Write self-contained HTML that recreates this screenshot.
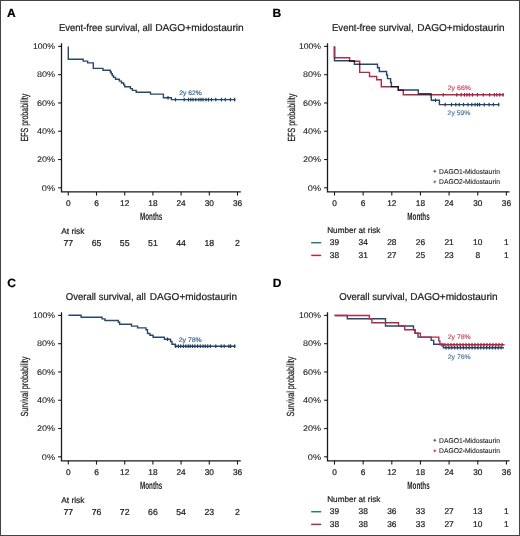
<!DOCTYPE html><html><head><meta charset="utf-8"><style>html,body{margin:0;padding:0;background:#fff;}svg{display:block;}text{font-family:"Liberation Sans",sans-serif;text-rendering:geometricPrecision;}</style></head><body>
<svg width="520" height="536" viewBox="0 0 520 536">
<rect x="0" y="0" width="520" height="536" fill="#fff"/>
<rect x="0.5" y="0.5" width="519" height="535" fill="none" stroke="#444" stroke-width="1"/>
<text x="7.00" y="17.30" font-size="12" text-anchor="start" fill="#000" font-weight="bold" stroke="#000" stroke-width="0.22">A</text>
<text x="272.50" y="17.00" font-size="12" text-anchor="start" fill="#000" font-weight="bold" stroke="#000" stroke-width="0.22">B</text>
<text x="7.30" y="286.50" font-size="12" text-anchor="start" fill="#000" font-weight="bold" stroke="#000" stroke-width="0.22">C</text>
<text x="272.70" y="286.70" font-size="12" text-anchor="start" fill="#000" font-weight="bold" stroke="#000" stroke-width="0.22">D</text>
<text x="59.00" y="31.00" font-size="10.0" text-anchor="start" fill="#222" font-weight="normal" textLength="93.0" lengthAdjust="spacingAndGlyphs" stroke="#222" stroke-width="0.22">Event-free survival, all</text>
<text x="155.20" y="31.00" font-size="10.0" text-anchor="start" fill="#222" font-weight="normal" textLength="88.6" lengthAdjust="spacingAndGlyphs" stroke="#222" stroke-width="0.22">DAGO+midostaurin</text>
<text x="332.00" y="31.00" font-size="10.0" text-anchor="start" fill="#222" font-weight="normal" textLength="81.6" lengthAdjust="spacingAndGlyphs" stroke="#222" stroke-width="0.22">Event-free survival,</text>
<text x="417.20" y="31.00" font-size="10.0" text-anchor="start" fill="#222" font-weight="normal" textLength="87.4" lengthAdjust="spacingAndGlyphs" stroke="#222" stroke-width="0.22">DAGO+midostaurin</text>
<text x="65.80" y="300.00" font-size="10.0" text-anchor="start" fill="#222" font-weight="normal" textLength="80.0" lengthAdjust="spacingAndGlyphs" stroke="#222" stroke-width="0.22">Overall survival, all</text>
<text x="149.80" y="300.00" font-size="10.0" text-anchor="start" fill="#222" font-weight="normal" textLength="87.4" lengthAdjust="spacingAndGlyphs" stroke="#222" stroke-width="0.22">DAGO+midostaurin</text>
<text x="339.30" y="300.00" font-size="10.0" text-anchor="start" fill="#222" font-weight="normal" textLength="68.0" lengthAdjust="spacingAndGlyphs" stroke="#222" stroke-width="0.22">Overall survival,</text>
<text x="410.20" y="300.00" font-size="10.0" text-anchor="start" fill="#222" font-weight="normal" textLength="87.4" lengthAdjust="spacingAndGlyphs" stroke="#222" stroke-width="0.22">DAGO+midostaurin</text>
<path d="M61.5,43.2 L61.5,191.8 L240.8,191.8" fill="none" stroke="#1b1b1b" stroke-width="1.3"/>
<path d="M58.10,46.40 L61.5,46.40" stroke="#1b1b1b" stroke-width="1.1"/>
<text x="55.10" y="49.10" font-size="8.2" text-anchor="end" fill="#222" font-weight="normal" textLength="22.2" lengthAdjust="spacingAndGlyphs" stroke="#222" stroke-width="0.08">100%</text>
<path d="M58.10,74.68 L61.5,74.68" stroke="#1b1b1b" stroke-width="1.1"/>
<text x="55.10" y="77.38" font-size="8.2" text-anchor="end" fill="#222" font-weight="normal" textLength="18.1" lengthAdjust="spacingAndGlyphs" stroke="#222" stroke-width="0.08">80%</text>
<path d="M58.10,102.96 L61.5,102.96" stroke="#1b1b1b" stroke-width="1.1"/>
<text x="55.10" y="105.66" font-size="8.2" text-anchor="end" fill="#222" font-weight="normal" textLength="18.1" lengthAdjust="spacingAndGlyphs" stroke="#222" stroke-width="0.08">60%</text>
<path d="M58.10,131.24 L61.5,131.24" stroke="#1b1b1b" stroke-width="1.1"/>
<text x="55.10" y="133.94" font-size="8.2" text-anchor="end" fill="#222" font-weight="normal" textLength="18.1" lengthAdjust="spacingAndGlyphs" stroke="#222" stroke-width="0.08">40%</text>
<path d="M58.10,159.52 L61.5,159.52" stroke="#1b1b1b" stroke-width="1.1"/>
<text x="55.10" y="162.22" font-size="8.2" text-anchor="end" fill="#222" font-weight="normal" textLength="18.1" lengthAdjust="spacingAndGlyphs" stroke="#222" stroke-width="0.08">20%</text>
<path d="M58.10,187.80 L61.5,187.80" stroke="#1b1b1b" stroke-width="1.1"/>
<text x="55.10" y="190.50" font-size="8.2" text-anchor="end" fill="#222" font-weight="normal" textLength="13.3" lengthAdjust="spacingAndGlyphs" stroke="#222" stroke-width="0.08">0%</text>
<path d="M68.30,191.8 L68.30,195.6" stroke="#1b1b1b" stroke-width="1.1"/>
<text x="68.30" y="205.80" font-size="8.3" text-anchor="middle" fill="#222" font-weight="normal" stroke="#222" stroke-width="0.22">0</text>
<path d="M96.50,191.8 L96.50,195.6" stroke="#1b1b1b" stroke-width="1.1"/>
<text x="96.50" y="205.80" font-size="8.3" text-anchor="middle" fill="#222" font-weight="normal" stroke="#222" stroke-width="0.22">6</text>
<path d="M124.70,191.8 L124.70,195.6" stroke="#1b1b1b" stroke-width="1.1"/>
<text x="124.70" y="205.80" font-size="8.3" text-anchor="middle" fill="#222" font-weight="normal" stroke="#222" stroke-width="0.22">12</text>
<path d="M152.90,191.8 L152.90,195.6" stroke="#1b1b1b" stroke-width="1.1"/>
<text x="152.90" y="205.80" font-size="8.3" text-anchor="middle" fill="#222" font-weight="normal" stroke="#222" stroke-width="0.22">18</text>
<path d="M181.10,191.8 L181.10,195.6" stroke="#1b1b1b" stroke-width="1.1"/>
<text x="181.10" y="205.80" font-size="8.3" text-anchor="middle" fill="#222" font-weight="normal" stroke="#222" stroke-width="0.22">24</text>
<path d="M209.30,191.8 L209.30,195.6" stroke="#1b1b1b" stroke-width="1.1"/>
<text x="209.30" y="205.80" font-size="8.3" text-anchor="middle" fill="#222" font-weight="normal" stroke="#222" stroke-width="0.22">30</text>
<path d="M237.50,191.8 L237.50,195.6" stroke="#1b1b1b" stroke-width="1.1"/>
<text x="237.50" y="205.80" font-size="8.3" text-anchor="middle" fill="#222" font-weight="normal" stroke="#222" stroke-width="0.22">36</text>
<text x="151.20" y="219.80" font-size="10.6" text-anchor="middle" fill="#222" font-weight="bold" textLength="22.3" lengthAdjust="spacingAndGlyphs">Months</text>
<text x="0" y="0" font-size="10.3" text-anchor="middle" fill="#222" textLength="47.8" lengthAdjust="spacingAndGlyphs" stroke="#222" stroke-width="0.25" transform="translate(27.50,117.60) rotate(-90)">EFS probability</text>
<path d="M327.5,43.2 L327.5,191.8 L509.6,191.8" fill="none" stroke="#1b1b1b" stroke-width="1.3"/>
<path d="M324.10,46.40 L327.5,46.40" stroke="#1b1b1b" stroke-width="1.1"/>
<text x="321.10" y="49.10" font-size="8.2" text-anchor="end" fill="#222" font-weight="normal" textLength="22.2" lengthAdjust="spacingAndGlyphs" stroke="#222" stroke-width="0.08">100%</text>
<path d="M324.10,74.68 L327.5,74.68" stroke="#1b1b1b" stroke-width="1.1"/>
<text x="321.10" y="77.38" font-size="8.2" text-anchor="end" fill="#222" font-weight="normal" textLength="18.1" lengthAdjust="spacingAndGlyphs" stroke="#222" stroke-width="0.08">80%</text>
<path d="M324.10,102.96 L327.5,102.96" stroke="#1b1b1b" stroke-width="1.1"/>
<text x="321.10" y="105.66" font-size="8.2" text-anchor="end" fill="#222" font-weight="normal" textLength="18.1" lengthAdjust="spacingAndGlyphs" stroke="#222" stroke-width="0.08">60%</text>
<path d="M324.10,131.24 L327.5,131.24" stroke="#1b1b1b" stroke-width="1.1"/>
<text x="321.10" y="133.94" font-size="8.2" text-anchor="end" fill="#222" font-weight="normal" textLength="18.1" lengthAdjust="spacingAndGlyphs" stroke="#222" stroke-width="0.08">40%</text>
<path d="M324.10,159.52 L327.5,159.52" stroke="#1b1b1b" stroke-width="1.1"/>
<text x="321.10" y="162.22" font-size="8.2" text-anchor="end" fill="#222" font-weight="normal" textLength="18.1" lengthAdjust="spacingAndGlyphs" stroke="#222" stroke-width="0.08">20%</text>
<path d="M324.10,187.80 L327.5,187.80" stroke="#1b1b1b" stroke-width="1.1"/>
<text x="321.10" y="190.50" font-size="8.2" text-anchor="end" fill="#222" font-weight="normal" textLength="13.3" lengthAdjust="spacingAndGlyphs" stroke="#222" stroke-width="0.08">0%</text>
<path d="M334.50,191.8 L334.50,195.6" stroke="#1b1b1b" stroke-width="1.1"/>
<text x="334.50" y="205.80" font-size="8.3" text-anchor="middle" fill="#222" font-weight="normal" stroke="#222" stroke-width="0.22">0</text>
<path d="M363.15,191.8 L363.15,195.6" stroke="#1b1b1b" stroke-width="1.1"/>
<text x="363.15" y="205.80" font-size="8.3" text-anchor="middle" fill="#222" font-weight="normal" stroke="#222" stroke-width="0.22">6</text>
<path d="M391.80,191.8 L391.80,195.6" stroke="#1b1b1b" stroke-width="1.1"/>
<text x="391.80" y="205.80" font-size="8.3" text-anchor="middle" fill="#222" font-weight="normal" stroke="#222" stroke-width="0.22">12</text>
<path d="M420.45,191.8 L420.45,195.6" stroke="#1b1b1b" stroke-width="1.1"/>
<text x="420.45" y="205.80" font-size="8.3" text-anchor="middle" fill="#222" font-weight="normal" stroke="#222" stroke-width="0.22">18</text>
<path d="M449.10,191.8 L449.10,195.6" stroke="#1b1b1b" stroke-width="1.1"/>
<text x="449.10" y="205.80" font-size="8.3" text-anchor="middle" fill="#222" font-weight="normal" stroke="#222" stroke-width="0.22">24</text>
<path d="M477.75,191.8 L477.75,195.6" stroke="#1b1b1b" stroke-width="1.1"/>
<text x="477.75" y="205.80" font-size="8.3" text-anchor="middle" fill="#222" font-weight="normal" stroke="#222" stroke-width="0.22">30</text>
<path d="M506.40,191.8 L506.40,195.6" stroke="#1b1b1b" stroke-width="1.1"/>
<text x="506.40" y="205.80" font-size="8.3" text-anchor="middle" fill="#222" font-weight="normal" stroke="#222" stroke-width="0.22">36</text>
<text x="418.50" y="219.80" font-size="10.6" text-anchor="middle" fill="#222" font-weight="bold" textLength="22.3" lengthAdjust="spacingAndGlyphs">Months</text>
<text x="0" y="0" font-size="10.3" text-anchor="middle" fill="#222" textLength="47.8" lengthAdjust="spacingAndGlyphs" stroke="#222" stroke-width="0.25" transform="translate(294.60,117.60) rotate(-90)">EFS probability</text>
<path d="M61.5,312.2 L61.5,460.8 L240.8,460.8" fill="none" stroke="#1b1b1b" stroke-width="1.3"/>
<path d="M58.10,315.40 L61.5,315.40" stroke="#1b1b1b" stroke-width="1.1"/>
<text x="55.10" y="318.10" font-size="8.2" text-anchor="end" fill="#222" font-weight="normal" textLength="22.2" lengthAdjust="spacingAndGlyphs" stroke="#222" stroke-width="0.08">100%</text>
<path d="M58.10,343.68 L61.5,343.68" stroke="#1b1b1b" stroke-width="1.1"/>
<text x="55.10" y="346.38" font-size="8.2" text-anchor="end" fill="#222" font-weight="normal" textLength="18.1" lengthAdjust="spacingAndGlyphs" stroke="#222" stroke-width="0.08">80%</text>
<path d="M58.10,371.96 L61.5,371.96" stroke="#1b1b1b" stroke-width="1.1"/>
<text x="55.10" y="374.66" font-size="8.2" text-anchor="end" fill="#222" font-weight="normal" textLength="18.1" lengthAdjust="spacingAndGlyphs" stroke="#222" stroke-width="0.08">60%</text>
<path d="M58.10,400.24 L61.5,400.24" stroke="#1b1b1b" stroke-width="1.1"/>
<text x="55.10" y="402.94" font-size="8.2" text-anchor="end" fill="#222" font-weight="normal" textLength="18.1" lengthAdjust="spacingAndGlyphs" stroke="#222" stroke-width="0.08">40%</text>
<path d="M58.10,428.52 L61.5,428.52" stroke="#1b1b1b" stroke-width="1.1"/>
<text x="55.10" y="431.22" font-size="8.2" text-anchor="end" fill="#222" font-weight="normal" textLength="18.1" lengthAdjust="spacingAndGlyphs" stroke="#222" stroke-width="0.08">20%</text>
<path d="M58.10,456.80 L61.5,456.80" stroke="#1b1b1b" stroke-width="1.1"/>
<text x="55.10" y="459.50" font-size="8.2" text-anchor="end" fill="#222" font-weight="normal" textLength="13.3" lengthAdjust="spacingAndGlyphs" stroke="#222" stroke-width="0.08">0%</text>
<path d="M68.30,460.8 L68.30,464.6" stroke="#1b1b1b" stroke-width="1.1"/>
<text x="68.30" y="474.80" font-size="8.3" text-anchor="middle" fill="#222" font-weight="normal" stroke="#222" stroke-width="0.22">0</text>
<path d="M96.50,460.8 L96.50,464.6" stroke="#1b1b1b" stroke-width="1.1"/>
<text x="96.50" y="474.80" font-size="8.3" text-anchor="middle" fill="#222" font-weight="normal" stroke="#222" stroke-width="0.22">6</text>
<path d="M124.70,460.8 L124.70,464.6" stroke="#1b1b1b" stroke-width="1.1"/>
<text x="124.70" y="474.80" font-size="8.3" text-anchor="middle" fill="#222" font-weight="normal" stroke="#222" stroke-width="0.22">12</text>
<path d="M152.90,460.8 L152.90,464.6" stroke="#1b1b1b" stroke-width="1.1"/>
<text x="152.90" y="474.80" font-size="8.3" text-anchor="middle" fill="#222" font-weight="normal" stroke="#222" stroke-width="0.22">18</text>
<path d="M181.10,460.8 L181.10,464.6" stroke="#1b1b1b" stroke-width="1.1"/>
<text x="181.10" y="474.80" font-size="8.3" text-anchor="middle" fill="#222" font-weight="normal" stroke="#222" stroke-width="0.22">24</text>
<path d="M209.30,460.8 L209.30,464.6" stroke="#1b1b1b" stroke-width="1.1"/>
<text x="209.30" y="474.80" font-size="8.3" text-anchor="middle" fill="#222" font-weight="normal" stroke="#222" stroke-width="0.22">30</text>
<path d="M237.50,460.8 L237.50,464.6" stroke="#1b1b1b" stroke-width="1.1"/>
<text x="237.50" y="474.80" font-size="8.3" text-anchor="middle" fill="#222" font-weight="normal" stroke="#222" stroke-width="0.22">36</text>
<text x="151.20" y="488.80" font-size="10.6" text-anchor="middle" fill="#222" font-weight="bold" textLength="22.3" lengthAdjust="spacingAndGlyphs">Months</text>
<text x="0" y="0" font-size="10.3" text-anchor="middle" fill="#222" textLength="59.8" lengthAdjust="spacingAndGlyphs" stroke="#222" stroke-width="0.25" transform="translate(28.00,386.60) rotate(-90)">Survival probability</text>
<path d="M327.5,312.2 L327.5,460.8 L509.6,460.8" fill="none" stroke="#1b1b1b" stroke-width="1.3"/>
<path d="M324.10,315.40 L327.5,315.40" stroke="#1b1b1b" stroke-width="1.1"/>
<text x="321.10" y="318.10" font-size="8.2" text-anchor="end" fill="#222" font-weight="normal" textLength="22.2" lengthAdjust="spacingAndGlyphs" stroke="#222" stroke-width="0.08">100%</text>
<path d="M324.10,343.68 L327.5,343.68" stroke="#1b1b1b" stroke-width="1.1"/>
<text x="321.10" y="346.38" font-size="8.2" text-anchor="end" fill="#222" font-weight="normal" textLength="18.1" lengthAdjust="spacingAndGlyphs" stroke="#222" stroke-width="0.08">80%</text>
<path d="M324.10,371.96 L327.5,371.96" stroke="#1b1b1b" stroke-width="1.1"/>
<text x="321.10" y="374.66" font-size="8.2" text-anchor="end" fill="#222" font-weight="normal" textLength="18.1" lengthAdjust="spacingAndGlyphs" stroke="#222" stroke-width="0.08">60%</text>
<path d="M324.10,400.24 L327.5,400.24" stroke="#1b1b1b" stroke-width="1.1"/>
<text x="321.10" y="402.94" font-size="8.2" text-anchor="end" fill="#222" font-weight="normal" textLength="18.1" lengthAdjust="spacingAndGlyphs" stroke="#222" stroke-width="0.08">40%</text>
<path d="M324.10,428.52 L327.5,428.52" stroke="#1b1b1b" stroke-width="1.1"/>
<text x="321.10" y="431.22" font-size="8.2" text-anchor="end" fill="#222" font-weight="normal" textLength="18.1" lengthAdjust="spacingAndGlyphs" stroke="#222" stroke-width="0.08">20%</text>
<path d="M324.10,456.80 L327.5,456.80" stroke="#1b1b1b" stroke-width="1.1"/>
<text x="321.10" y="459.50" font-size="8.2" text-anchor="end" fill="#222" font-weight="normal" textLength="13.3" lengthAdjust="spacingAndGlyphs" stroke="#222" stroke-width="0.08">0%</text>
<path d="M334.50,460.8 L334.50,464.6" stroke="#1b1b1b" stroke-width="1.1"/>
<text x="334.50" y="474.80" font-size="8.3" text-anchor="middle" fill="#222" font-weight="normal" stroke="#222" stroke-width="0.22">0</text>
<path d="M363.15,460.8 L363.15,464.6" stroke="#1b1b1b" stroke-width="1.1"/>
<text x="363.15" y="474.80" font-size="8.3" text-anchor="middle" fill="#222" font-weight="normal" stroke="#222" stroke-width="0.22">6</text>
<path d="M391.80,460.8 L391.80,464.6" stroke="#1b1b1b" stroke-width="1.1"/>
<text x="391.80" y="474.80" font-size="8.3" text-anchor="middle" fill="#222" font-weight="normal" stroke="#222" stroke-width="0.22">12</text>
<path d="M420.45,460.8 L420.45,464.6" stroke="#1b1b1b" stroke-width="1.1"/>
<text x="420.45" y="474.80" font-size="8.3" text-anchor="middle" fill="#222" font-weight="normal" stroke="#222" stroke-width="0.22">18</text>
<path d="M449.10,460.8 L449.10,464.6" stroke="#1b1b1b" stroke-width="1.1"/>
<text x="449.10" y="474.80" font-size="8.3" text-anchor="middle" fill="#222" font-weight="normal" stroke="#222" stroke-width="0.22">24</text>
<path d="M477.75,460.8 L477.75,464.6" stroke="#1b1b1b" stroke-width="1.1"/>
<text x="477.75" y="474.80" font-size="8.3" text-anchor="middle" fill="#222" font-weight="normal" stroke="#222" stroke-width="0.22">30</text>
<path d="M506.40,460.8 L506.40,464.6" stroke="#1b1b1b" stroke-width="1.1"/>
<text x="506.40" y="474.80" font-size="8.3" text-anchor="middle" fill="#222" font-weight="normal" stroke="#222" stroke-width="0.22">36</text>
<text x="418.50" y="488.80" font-size="10.6" text-anchor="middle" fill="#222" font-weight="bold" textLength="22.3" lengthAdjust="spacingAndGlyphs">Months</text>
<text x="0" y="0" font-size="10.3" text-anchor="middle" fill="#222" textLength="59.8" lengthAdjust="spacingAndGlyphs" stroke="#222" stroke-width="0.25" transform="translate(293.80,386.60) rotate(-90)">Survival probability</text>
<path d="M68.30,46.40 L68.30,59.20 L83.20,59.20 L83.20,61.10 L87.60,61.10 L87.60,62.90 L93.30,62.90 L93.30,68.40 L103.00,68.40 L103.00,70.20 L110.30,70.20 L110.30,72.00 L111.30,72.00 L111.30,73.80 L112.30,73.80 L112.30,75.60 L113.50,75.60 L113.50,77.40 L115.50,77.40 L115.50,79.20 L119.40,79.20 L119.40,81.10 L121.50,81.10 L121.50,83.00 L123.70,83.00 L123.70,84.90 L124.70,84.90 L124.70,86.80 L130.40,86.80 L130.40,88.60 L132.40,88.60 L132.40,90.40 L136.20,90.40 L136.20,92.20 L150.50,92.20 L150.50,94.10 L163.40,94.10 L163.40,97.80 L171.40,97.80 L171.40,99.60 L235.50,99.60" fill="none" stroke="#27486a" stroke-width="1.4" stroke-linejoin="miter" stroke-linecap="butt"/>
<rect x="167.40" y="96.00" width="1.2" height="3.6" fill="#1d3f5e"/>
<rect x="174.90" y="97.80" width="1.2" height="3.6" fill="#1d3f5e"/>
<rect x="183.60" y="97.80" width="1.2" height="3.6" fill="#1d3f5e"/>
<rect x="187.90" y="97.80" width="1.2" height="3.6" fill="#1d3f5e"/>
<rect x="190.20" y="97.80" width="1.2" height="3.6" fill="#1d3f5e"/>
<rect x="192.40" y="97.80" width="1.2" height="3.6" fill="#1d3f5e"/>
<rect x="195.20" y="97.80" width="1.2" height="3.6" fill="#1d3f5e"/>
<rect x="198.20" y="97.80" width="1.2" height="3.6" fill="#1d3f5e"/>
<rect x="200.40" y="97.80" width="1.2" height="3.6" fill="#1d3f5e"/>
<rect x="202.40" y="97.80" width="1.2" height="3.6" fill="#1d3f5e"/>
<rect x="205.40" y="97.80" width="1.2" height="3.6" fill="#1d3f5e"/>
<rect x="207.90" y="97.80" width="1.2" height="3.6" fill="#1d3f5e"/>
<rect x="210.90" y="97.80" width="1.2" height="3.6" fill="#1d3f5e"/>
<rect x="215.20" y="97.80" width="1.2" height="3.6" fill="#1d3f5e"/>
<rect x="220.90" y="97.80" width="1.2" height="3.6" fill="#1d3f5e"/>
<rect x="224.70" y="97.80" width="1.2" height="3.6" fill="#1d3f5e"/>
<rect x="229.80" y="97.80" width="1.2" height="3.6" fill="#1d3f5e"/>
<rect x="234.00" y="97.80" width="1.2" height="3.6" fill="#1d3f5e"/>
<text x="179.20" y="95.10" font-size="6.6" text-anchor="start" fill="#3f6a94" font-weight="normal" textLength="22.6" lengthAdjust="spacingAndGlyphs" stroke="#3f6a94" stroke-width="0.22">2y 62%</text>
<path d="M334.50,46.40 L334.50,60.80 L354.40,60.80 L354.40,64.30 L377.50,64.30 L377.50,67.70 L379.30,67.70 L379.30,71.50 L386.60,71.50 L386.60,75.00 L387.50,75.00 L387.50,78.60 L390.60,78.60 L390.60,82.50 L391.40,82.50 L391.40,86.60 L398.30,86.60 L398.30,90.00 L418.30,90.00 L418.30,93.80 L431.00,93.80 L431.00,97.00 L431.30,97.00 L431.30,100.30 L439.40,100.30 L439.40,104.60 L499.20,104.60" fill="none" stroke="#27486a" stroke-width="1.4" stroke-linejoin="miter" stroke-linecap="butt"/>
<path d="M334.50,46.40 L334.50,57.80 L349.60,57.80 L349.60,61.30 L359.70,61.30 L359.70,72.40 L369.50,72.40 L369.50,76.50 L376.70,76.50 L376.70,79.70 L381.30,79.70 L381.30,86.80 L398.30,86.80 L398.30,90.30 L403.30,90.30 L403.30,94.80 L504.00,94.80" fill="none" stroke="#ad2b4b" stroke-width="1.4" stroke-linejoin="miter" stroke-linecap="butt" style="mix-blend-mode:multiply"/>
<path d="M334.50,46.40 L334.50,57.80" fill="none" stroke="#ad2b4b" stroke-width="1.4" stroke-linejoin="miter" stroke-linecap="butt"/>
<rect x="434.90" y="98.50" width="1.2" height="3.6" fill="#1d3f5e"/>
<rect x="444.60" y="102.80" width="1.2" height="3.6" fill="#1d3f5e"/>
<rect x="450.90" y="102.80" width="1.2" height="3.6" fill="#1d3f5e"/>
<rect x="455.20" y="102.80" width="1.2" height="3.6" fill="#1d3f5e"/>
<rect x="458.60" y="102.80" width="1.2" height="3.6" fill="#1d3f5e"/>
<rect x="462.90" y="102.80" width="1.2" height="3.6" fill="#1d3f5e"/>
<rect x="467.40" y="102.80" width="1.2" height="3.6" fill="#1d3f5e"/>
<rect x="471.20" y="102.80" width="1.2" height="3.6" fill="#1d3f5e"/>
<rect x="474.50" y="102.80" width="1.2" height="3.6" fill="#1d3f5e"/>
<rect x="476.90" y="102.80" width="1.2" height="3.6" fill="#1d3f5e"/>
<rect x="478.90" y="102.80" width="1.2" height="3.6" fill="#1d3f5e"/>
<rect x="483.70" y="102.80" width="1.2" height="3.6" fill="#1d3f5e"/>
<rect x="488.50" y="102.80" width="1.2" height="3.6" fill="#1d3f5e"/>
<rect x="492.80" y="102.80" width="1.2" height="3.6" fill="#1d3f5e"/>
<rect x="498.10" y="102.80" width="1.2" height="3.6" fill="#1d3f5e"/>
<rect x="442.70" y="93.00" width="1.2" height="3.6" fill="#a5203d"/>
<rect x="456.20" y="93.00" width="1.2" height="3.6" fill="#a5203d"/>
<rect x="460.50" y="93.00" width="1.2" height="3.6" fill="#a5203d"/>
<rect x="463.90" y="93.00" width="1.2" height="3.6" fill="#a5203d"/>
<rect x="466.30" y="93.00" width="1.2" height="3.6" fill="#a5203d"/>
<rect x="468.70" y="93.00" width="1.2" height="3.6" fill="#a5203d"/>
<rect x="471.90" y="93.00" width="1.2" height="3.6" fill="#a5203d"/>
<rect x="476.90" y="93.00" width="1.2" height="3.6" fill="#a5203d"/>
<rect x="482.70" y="93.00" width="1.2" height="3.6" fill="#a5203d"/>
<rect x="489.00" y="93.00" width="1.2" height="3.6" fill="#a5203d"/>
<rect x="493.80" y="93.00" width="1.2" height="3.6" fill="#a5203d"/>
<rect x="496.20" y="93.00" width="1.2" height="3.6" fill="#a5203d"/>
<rect x="499.10" y="93.00" width="1.2" height="3.6" fill="#a5203d"/>
<rect x="502.40" y="93.00" width="1.2" height="3.6" fill="#a5203d"/>
<text x="447.70" y="90.10" font-size="6.6" text-anchor="start" fill="#c8546c" font-weight="normal" textLength="23.3" lengthAdjust="spacingAndGlyphs" stroke="#c8546c" stroke-width="0.22">2y 66%</text>
<text x="447.60" y="114.60" font-size="6.6" text-anchor="start" fill="#5b7fa3" font-weight="normal" textLength="22.8" lengthAdjust="spacingAndGlyphs" stroke="#5b7fa3" stroke-width="0.22">2y 59%</text>
<path d="M433.4,171.30 L436.2,171.30 M434.8,169.90 L434.8,172.70" stroke="#2a4f77" stroke-width="0.9"/>
<path d="M433.4,181.80 L436.2,181.80 M434.8,180.40 L434.8,183.20" stroke="#b8304f" stroke-width="0.9"/>
<text x="439.10" y="173.60" font-size="7.0" text-anchor="start" fill="#222" font-weight="normal" textLength="60.8" lengthAdjust="spacingAndGlyphs" stroke="#222" stroke-width="0.1">DAGO1-Midostaurin</text>
<text x="439.10" y="184.00" font-size="7.0" text-anchor="start" fill="#222" font-weight="normal" textLength="60.8" lengthAdjust="spacingAndGlyphs" stroke="#222" stroke-width="0.1">DAGO2-Midostaurin</text>
<path d="M433.4,440.30 L436.2,440.30 M434.8,438.90 L434.8,441.70" stroke="#2a4f77" stroke-width="0.9"/>
<path d="M433.4,450.80 L436.2,450.80 M434.8,449.40 L434.8,452.20" stroke="#b8304f" stroke-width="0.9"/>
<text x="439.10" y="442.60" font-size="7.0" text-anchor="start" fill="#222" font-weight="normal" textLength="60.8" lengthAdjust="spacingAndGlyphs" stroke="#222" stroke-width="0.1">DAGO1-Midostaurin</text>
<text x="439.10" y="453.00" font-size="7.0" text-anchor="start" fill="#222" font-weight="normal" textLength="60.8" lengthAdjust="spacingAndGlyphs" stroke="#222" stroke-width="0.1">DAGO2-Midostaurin</text>
<path d="M68.40,315.30 L81.10,315.30 L81.10,317.20 L102.10,317.20 L102.10,318.90 L105.00,318.90 L105.00,320.50 L118.40,320.50 L118.40,322.30 L119.60,322.30 L119.60,324.20 L131.50,324.20 L131.50,326.10 L137.60,326.10 L137.60,327.90 L146.00,327.90 L146.00,329.80 L147.50,329.80 L147.50,333.50 L150.00,333.50 L150.00,335.30 L153.10,335.30 L153.10,337.30 L164.40,337.30 L164.40,339.20 L170.50,339.20 L170.50,341.50 L172.00,341.50 L172.00,344.20 L175.20,344.20 L175.20,346.20 L235.60,346.20" fill="none" stroke="#27486a" stroke-width="1.4" stroke-linejoin="miter" stroke-linecap="butt"/>
<rect x="166.90" y="337.40" width="1.2" height="3.6" fill="#1d3f5e"/>
<rect x="175.10" y="344.40" width="1.2" height="3.6" fill="#1d3f5e"/>
<rect x="177.80" y="344.40" width="1.2" height="3.6" fill="#1d3f5e"/>
<rect x="180.10" y="344.40" width="1.2" height="3.6" fill="#1d3f5e"/>
<rect x="182.80" y="344.40" width="1.2" height="3.6" fill="#1d3f5e"/>
<rect x="185.20" y="344.40" width="1.2" height="3.6" fill="#1d3f5e"/>
<rect x="187.60" y="344.40" width="1.2" height="3.6" fill="#1d3f5e"/>
<rect x="189.60" y="344.40" width="1.2" height="3.6" fill="#1d3f5e"/>
<rect x="191.90" y="344.40" width="1.2" height="3.6" fill="#1d3f5e"/>
<rect x="194.30" y="344.40" width="1.2" height="3.6" fill="#1d3f5e"/>
<rect x="197.00" y="344.40" width="1.2" height="3.6" fill="#1d3f5e"/>
<rect x="199.70" y="344.40" width="1.2" height="3.6" fill="#1d3f5e"/>
<rect x="202.40" y="344.40" width="1.2" height="3.6" fill="#1d3f5e"/>
<rect x="204.70" y="344.40" width="1.2" height="3.6" fill="#1d3f5e"/>
<rect x="207.10" y="344.40" width="1.2" height="3.6" fill="#1d3f5e"/>
<rect x="209.80" y="344.40" width="1.2" height="3.6" fill="#1d3f5e"/>
<rect x="215.20" y="344.40" width="1.2" height="3.6" fill="#1d3f5e"/>
<rect x="220.60" y="344.40" width="1.2" height="3.6" fill="#1d3f5e"/>
<rect x="223.60" y="344.40" width="1.2" height="3.6" fill="#1d3f5e"/>
<rect x="228.30" y="344.40" width="1.2" height="3.6" fill="#1d3f5e"/>
<rect x="230.00" y="344.40" width="1.2" height="3.6" fill="#1d3f5e"/>
<rect x="234.00" y="344.40" width="1.2" height="3.6" fill="#1d3f5e"/>
<text x="178.70" y="341.50" font-size="6.6" text-anchor="start" fill="#3f6a94" font-weight="normal" textLength="23.0" lengthAdjust="spacingAndGlyphs" stroke="#3f6a94" stroke-width="0.22">2y 78%</text>
<path d="M334.60,315.50 L347.30,315.50 L347.30,318.80 L385.50,318.80 L385.50,326.00 L413.50,326.00 L413.50,329.80 L415.10,329.80 L415.10,333.30 L418.00,333.30 L418.00,337.10 L431.20,337.10 L431.20,340.40 L433.70,340.40 L433.70,344.20 L443.30,344.20 L443.30,347.70 L504.00,347.70" fill="none" stroke="#27486a" stroke-width="1.4" stroke-linejoin="miter" stroke-linecap="butt"/>
<path d="M334.60,315.50 L369.40,315.50 L369.40,318.80 L371.90,318.80 L371.90,322.80 L398.50,322.80 L398.50,326.00 L404.70,326.00 L404.70,329.80 L415.10,329.80 L415.10,333.30 L420.40,333.30 L420.40,337.10 L438.80,337.10 L438.80,340.90 L439.90,340.90 L439.90,344.70 L504.60,344.70" fill="none" stroke="#ad2b4b" stroke-width="1.4" stroke-linejoin="miter" stroke-linecap="butt"/>
<rect x="445.40" y="345.90" width="1.2" height="3.6" fill="#1d3f5e"/>
<rect x="448.30" y="345.90" width="1.2" height="3.6" fill="#1d3f5e"/>
<rect x="451.20" y="345.90" width="1.2" height="3.6" fill="#1d3f5e"/>
<rect x="454.10" y="345.90" width="1.2" height="3.6" fill="#1d3f5e"/>
<rect x="457.00" y="345.90" width="1.2" height="3.6" fill="#1d3f5e"/>
<rect x="459.90" y="345.90" width="1.2" height="3.6" fill="#1d3f5e"/>
<rect x="462.80" y="345.90" width="1.2" height="3.6" fill="#1d3f5e"/>
<rect x="465.70" y="345.90" width="1.2" height="3.6" fill="#1d3f5e"/>
<rect x="468.60" y="345.90" width="1.2" height="3.6" fill="#1d3f5e"/>
<rect x="471.50" y="345.90" width="1.2" height="3.6" fill="#1d3f5e"/>
<rect x="474.40" y="345.90" width="1.2" height="3.6" fill="#1d3f5e"/>
<rect x="477.30" y="345.90" width="1.2" height="3.6" fill="#1d3f5e"/>
<rect x="480.20" y="345.90" width="1.2" height="3.6" fill="#1d3f5e"/>
<rect x="483.10" y="345.90" width="1.2" height="3.6" fill="#1d3f5e"/>
<rect x="486.00" y="345.90" width="1.2" height="3.6" fill="#1d3f5e"/>
<rect x="488.90" y="345.90" width="1.2" height="3.6" fill="#1d3f5e"/>
<rect x="491.80" y="345.90" width="1.2" height="3.6" fill="#1d3f5e"/>
<rect x="494.70" y="345.90" width="1.2" height="3.6" fill="#1d3f5e"/>
<rect x="497.60" y="345.90" width="1.2" height="3.6" fill="#1d3f5e"/>
<rect x="500.50" y="345.90" width="1.2" height="3.6" fill="#1d3f5e"/>
<rect x="441.40" y="342.90" width="1.2" height="3.6" fill="#a5203d"/>
<rect x="444.40" y="342.90" width="1.2" height="3.6" fill="#a5203d"/>
<rect x="447.40" y="342.90" width="1.2" height="3.6" fill="#a5203d"/>
<rect x="450.40" y="342.90" width="1.2" height="3.6" fill="#a5203d"/>
<rect x="453.40" y="342.90" width="1.2" height="3.6" fill="#a5203d"/>
<rect x="456.40" y="342.90" width="1.2" height="3.6" fill="#a5203d"/>
<rect x="459.40" y="342.90" width="1.2" height="3.6" fill="#a5203d"/>
<rect x="462.40" y="342.90" width="1.2" height="3.6" fill="#a5203d"/>
<rect x="465.40" y="342.90" width="1.2" height="3.6" fill="#a5203d"/>
<rect x="468.40" y="342.90" width="1.2" height="3.6" fill="#a5203d"/>
<rect x="471.40" y="342.90" width="1.2" height="3.6" fill="#a5203d"/>
<rect x="474.40" y="342.90" width="1.2" height="3.6" fill="#a5203d"/>
<rect x="477.40" y="342.90" width="1.2" height="3.6" fill="#a5203d"/>
<rect x="480.40" y="342.90" width="1.2" height="3.6" fill="#a5203d"/>
<rect x="483.40" y="342.90" width="1.2" height="3.6" fill="#a5203d"/>
<rect x="486.40" y="342.90" width="1.2" height="3.6" fill="#a5203d"/>
<rect x="489.40" y="342.90" width="1.2" height="3.6" fill="#a5203d"/>
<rect x="492.40" y="342.90" width="1.2" height="3.6" fill="#a5203d"/>
<rect x="495.40" y="342.90" width="1.2" height="3.6" fill="#a5203d"/>
<rect x="498.40" y="342.90" width="1.2" height="3.6" fill="#a5203d"/>
<rect x="501.40" y="342.90" width="1.2" height="3.6" fill="#a5203d"/>
<text x="447.70" y="339.40" font-size="6.6" text-anchor="start" fill="#c8546c" font-weight="normal" textLength="23.0" lengthAdjust="spacingAndGlyphs" stroke="#c8546c" stroke-width="0.22">2y 78%</text>
<text x="447.70" y="358.50" font-size="6.6" text-anchor="start" fill="#5b7fa3" font-weight="normal" textLength="23.0" lengthAdjust="spacingAndGlyphs" stroke="#5b7fa3" stroke-width="0.22">2y 76%</text>
<text x="61.20" y="233.70" font-size="8.3" text-anchor="start" fill="#222" font-weight="normal" textLength="23.3" lengthAdjust="spacingAndGlyphs" stroke="#222" stroke-width="0.22">At risk</text>
<text x="68.30" y="245.60" font-size="8.7" text-anchor="middle" fill="#222" font-weight="normal" stroke="#222" stroke-width="0.22">77</text>
<text x="96.50" y="245.60" font-size="8.7" text-anchor="middle" fill="#222" font-weight="normal" stroke="#222" stroke-width="0.22">65</text>
<text x="124.70" y="245.60" font-size="8.7" text-anchor="middle" fill="#222" font-weight="normal" stroke="#222" stroke-width="0.22">55</text>
<text x="152.90" y="245.60" font-size="8.7" text-anchor="middle" fill="#222" font-weight="normal" stroke="#222" stroke-width="0.22">51</text>
<text x="181.10" y="245.60" font-size="8.7" text-anchor="middle" fill="#222" font-weight="normal" stroke="#222" stroke-width="0.22">44</text>
<text x="209.30" y="245.60" font-size="8.7" text-anchor="middle" fill="#222" font-weight="normal" stroke="#222" stroke-width="0.22">18</text>
<text x="237.50" y="245.60" font-size="8.7" text-anchor="middle" fill="#222" font-weight="normal" stroke="#222" stroke-width="0.22">2</text>
<text x="327.20" y="233.00" font-size="8.2" text-anchor="start" fill="#222" font-weight="normal" textLength="53.2" lengthAdjust="spacingAndGlyphs" stroke="#222" stroke-width="0.22">Number at risk</text>
<path d="M311.2,242.7 L321.2,242.7" stroke="#2f7580" stroke-width="1.5"/>
<path d="M311.2,255.4 L321.2,255.4" stroke="#ad2b4b" stroke-width="1.5"/>
<text x="334.50" y="245.40" font-size="8.4" text-anchor="middle" fill="#222" font-weight="normal" stroke="#222" stroke-width="0.22">39</text>
<text x="363.15" y="245.40" font-size="8.4" text-anchor="middle" fill="#222" font-weight="normal" stroke="#222" stroke-width="0.22">34</text>
<text x="391.80" y="245.40" font-size="8.4" text-anchor="middle" fill="#222" font-weight="normal" stroke="#222" stroke-width="0.22">28</text>
<text x="420.45" y="245.40" font-size="8.4" text-anchor="middle" fill="#222" font-weight="normal" stroke="#222" stroke-width="0.22">26</text>
<text x="449.10" y="245.40" font-size="8.4" text-anchor="middle" fill="#222" font-weight="normal" stroke="#222" stroke-width="0.22">21</text>
<text x="477.75" y="245.40" font-size="8.4" text-anchor="middle" fill="#222" font-weight="normal" stroke="#222" stroke-width="0.22">10</text>
<text x="506.40" y="245.40" font-size="8.4" text-anchor="middle" fill="#222" font-weight="normal" stroke="#222" stroke-width="0.22">1</text>
<text x="334.50" y="257.90" font-size="8.4" text-anchor="middle" fill="#222" font-weight="normal" stroke="#222" stroke-width="0.22">38</text>
<text x="363.15" y="257.90" font-size="8.4" text-anchor="middle" fill="#222" font-weight="normal" stroke="#222" stroke-width="0.22">31</text>
<text x="391.80" y="257.90" font-size="8.4" text-anchor="middle" fill="#222" font-weight="normal" stroke="#222" stroke-width="0.22">27</text>
<text x="420.45" y="257.90" font-size="8.4" text-anchor="middle" fill="#222" font-weight="normal" stroke="#222" stroke-width="0.22">25</text>
<text x="449.10" y="257.90" font-size="8.4" text-anchor="middle" fill="#222" font-weight="normal" stroke="#222" stroke-width="0.22">23</text>
<text x="477.75" y="257.90" font-size="8.4" text-anchor="middle" fill="#222" font-weight="normal" stroke="#222" stroke-width="0.22">8</text>
<text x="506.40" y="257.90" font-size="8.4" text-anchor="middle" fill="#222" font-weight="normal" stroke="#222" stroke-width="0.22">1</text>
<text x="61.20" y="502.70" font-size="8.3" text-anchor="start" fill="#222" font-weight="normal" textLength="23.3" lengthAdjust="spacingAndGlyphs" stroke="#222" stroke-width="0.22">At risk</text>
<text x="68.30" y="514.60" font-size="8.7" text-anchor="middle" fill="#222" font-weight="normal" stroke="#222" stroke-width="0.22">77</text>
<text x="96.50" y="514.60" font-size="8.7" text-anchor="middle" fill="#222" font-weight="normal" stroke="#222" stroke-width="0.22">76</text>
<text x="124.70" y="514.60" font-size="8.7" text-anchor="middle" fill="#222" font-weight="normal" stroke="#222" stroke-width="0.22">72</text>
<text x="152.90" y="514.60" font-size="8.7" text-anchor="middle" fill="#222" font-weight="normal" stroke="#222" stroke-width="0.22">66</text>
<text x="181.10" y="514.60" font-size="8.7" text-anchor="middle" fill="#222" font-weight="normal" stroke="#222" stroke-width="0.22">54</text>
<text x="209.30" y="514.60" font-size="8.7" text-anchor="middle" fill="#222" font-weight="normal" stroke="#222" stroke-width="0.22">23</text>
<text x="237.50" y="514.60" font-size="8.7" text-anchor="middle" fill="#222" font-weight="normal" stroke="#222" stroke-width="0.22">2</text>
<text x="327.20" y="502.00" font-size="8.2" text-anchor="start" fill="#222" font-weight="normal" textLength="53.2" lengthAdjust="spacingAndGlyphs" stroke="#222" stroke-width="0.22">Number at risk</text>
<path d="M311.2,511.7 L321.2,511.7" stroke="#2f7580" stroke-width="1.5"/>
<path d="M311.2,524.4 L321.2,524.4" stroke="#ad2b4b" stroke-width="1.5"/>
<text x="334.50" y="514.40" font-size="8.4" text-anchor="middle" fill="#222" font-weight="normal" stroke="#222" stroke-width="0.22">39</text>
<text x="363.15" y="514.40" font-size="8.4" text-anchor="middle" fill="#222" font-weight="normal" stroke="#222" stroke-width="0.22">38</text>
<text x="391.80" y="514.40" font-size="8.4" text-anchor="middle" fill="#222" font-weight="normal" stroke="#222" stroke-width="0.22">36</text>
<text x="420.45" y="514.40" font-size="8.4" text-anchor="middle" fill="#222" font-weight="normal" stroke="#222" stroke-width="0.22">33</text>
<text x="449.10" y="514.40" font-size="8.4" text-anchor="middle" fill="#222" font-weight="normal" stroke="#222" stroke-width="0.22">27</text>
<text x="477.75" y="514.40" font-size="8.4" text-anchor="middle" fill="#222" font-weight="normal" stroke="#222" stroke-width="0.22">13</text>
<text x="506.40" y="514.40" font-size="8.4" text-anchor="middle" fill="#222" font-weight="normal" stroke="#222" stroke-width="0.22">1</text>
<text x="334.50" y="526.90" font-size="8.4" text-anchor="middle" fill="#222" font-weight="normal" stroke="#222" stroke-width="0.22">38</text>
<text x="363.15" y="526.90" font-size="8.4" text-anchor="middle" fill="#222" font-weight="normal" stroke="#222" stroke-width="0.22">38</text>
<text x="391.80" y="526.90" font-size="8.4" text-anchor="middle" fill="#222" font-weight="normal" stroke="#222" stroke-width="0.22">36</text>
<text x="420.45" y="526.90" font-size="8.4" text-anchor="middle" fill="#222" font-weight="normal" stroke="#222" stroke-width="0.22">33</text>
<text x="449.10" y="526.90" font-size="8.4" text-anchor="middle" fill="#222" font-weight="normal" stroke="#222" stroke-width="0.22">27</text>
<text x="477.75" y="526.90" font-size="8.4" text-anchor="middle" fill="#222" font-weight="normal" stroke="#222" stroke-width="0.22">10</text>
<text x="506.40" y="526.90" font-size="8.4" text-anchor="middle" fill="#222" font-weight="normal" stroke="#222" stroke-width="0.22">1</text>
</svg></body></html>
